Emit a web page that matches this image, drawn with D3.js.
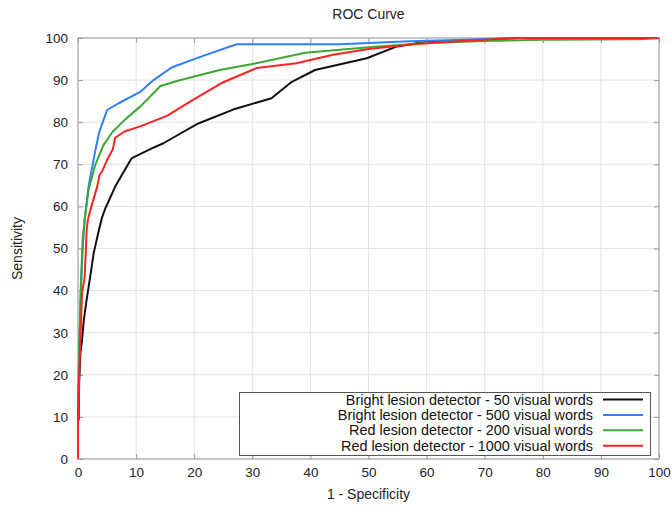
<!DOCTYPE html>
<html>
<head>
<meta charset="utf-8">
<script src="https://cdn.jsdelivr.net/npm/d3@7"></script>
<style>
  body { margin: 0; background: #fff; }
  svg { font-family: "Liberation Sans", Arial, sans-serif; }
</style>
</head>
<body>
<div id="chart"></div>
<script>
// ROC curves, values (x = 1 - specificity, y = sensitivity, %)
const bright50 = [
  [0, 0], [0, 9], [0.1, 9.3], [0.2, 18], [0.4, 25], [0.7, 28.3], [1.0, 33], [1.4, 37],
  [2.1, 43.3], [2.7, 48.9], [3.6, 54.4], [4.1, 57.2], [4.7, 59.5], [6.4, 64.7], [9.2, 71.4],
  [12.7, 73.8], [14.7, 75], [20.7, 79.7], [26.7, 83], [33.3, 85.7], [36.8, 89.6], [40.8, 92.4],
  [49.7, 95.2], [54.9, 98], [59.4, 99], [70, 99.6], [76, 100], [100, 100]
];
const bright500 = [
  [0, 0], [0, 10], [0.2, 25], [0.5, 40], [0.8, 50], [1.15, 56.8], [1.8, 64.6], [2.9, 72.7],
  [3.6, 77.4], [5, 82.9], [7, 84.5], [10.7, 87.2], [13, 90], [16.1, 93], [22, 96],
  [27.3, 98.5], [45, 98.5], [57, 99.2], [65, 99.5], [75, 100], [100, 100]
];
const red200 = [
  [0, 0], [0, 10], [0.2, 25], [0.5, 42], [0.8, 52], [1.15, 56.8], [1.8, 63.9], [3, 70],
  [4.4, 74.6], [6, 77.8], [8, 80.5], [10.7, 83.7], [14.2, 88.6], [17, 89.8], [24.4, 92.4],
  [30, 93.8], [39.1, 96.5], [50, 97.8], [60, 98.8], [70, 99.3], [80, 99.6], [96.7, 99.7], [100, 100]
];
const red1000 = [
  [0, 0], [0, 10], [0.2, 20], [0.4, 28.3], [0.7, 39.4], [1.15, 43.3], [1.5, 54.4], [1.7, 56.8],
  [2.1, 59], [3.3, 64.7], [3.7, 67.4], [4.25, 68.6], [5, 71], [6.0, 73.6], [6.4, 76.3],
  [8, 77.8], [10.7, 79], [15.3, 81.5], [19.8, 85.3], [25, 89.5], [30.8, 92.9], [37.6, 94],
  [43.9, 96], [50, 97.4], [58.3, 98.6], [66, 99.3], [75.5, 100], [100, 100]
];

const seriesNames = [
  "Bright lesion detector - 50 visual words",
  "Bright lesion detector - 500 visual words",
  "Red lesion detector - 200 visual words",
  "Red lesion detector - 1000 visual words"
];
const seriesData = [bright50, bright500, red200, red1000];
const seriesColors = ["#111111", "#2f7fff", "#3aa832", "#ff2222"];
const ticks = d3.range(0, 101, 10);

const width = 672, height = 508;
const margin = { top: 38, right: 13, bottom: 49, left: 78 };

const svg = d3.select("#chart").append("svg")
  .attr("width", width)
  .attr("height", height);

const x = d3.scaleLinear().domain([0, 100]).range([margin.left, width - margin.right]);
const y = d3.scaleLinear().domain([0, 100]).range([height - margin.bottom, margin.top]);

// grid
svg.append("g")
  .selectAll("line.vg")
  .data(ticks)
  .join("line")
  .attr("x1", d => x(d)).attr("x2", d => x(d))
  .attr("y1", y(0)).attr("y2", y(100))
  .attr("stroke", "#e2e2e2");
svg.append("g")
  .selectAll("line.hg")
  .data(ticks)
  .join("line")
  .attr("x1", x(0)).attr("x2", x(100))
  .attr("y1", d => y(d)).attr("y2", d => y(d))
  .attr("stroke", "#e2e2e2");

// axes, inner ticks on all four sides
const axStyle = g => {
  g.select(".domain").remove();
  g.selectAll(".tick line").attr("stroke", "#999");
  g.selectAll(".tick text").attr("fill", "#222").style("font-size", "13.5px");
};
svg.append("g")
  .attr("transform", `translate(0,${y(0)})`)
  .call(d3.axisBottom(x).tickValues(ticks).tickSizeInner(-5).tickSizeOuter(0).tickPadding(8))
  .call(axStyle);
svg.append("g")
  .attr("transform", `translate(0,${y(100)})`)
  .call(d3.axisTop(x).tickValues(ticks).tickSizeInner(-5).tickSizeOuter(0).tickFormat(""))
  .call(axStyle);
svg.append("g")
  .attr("transform", `translate(${x(0)},0)`)
  .call(d3.axisLeft(y).tickValues(ticks).tickSizeInner(-5).tickSizeOuter(0).tickPadding(10))
  .call(axStyle);
svg.append("g")
  .attr("transform", `translate(${x(100)},0)`)
  .call(d3.axisRight(y).tickValues(ticks).tickSizeInner(-5).tickSizeOuter(0).tickFormat(""))
  .call(axStyle);

// frame
svg.append("rect")
  .attr("x", x(0)).attr("y", y(100))
  .attr("width", x(100) - x(0)).attr("height", y(0) - y(100))
  .attr("fill", "none")
  .attr("stroke", "#999");

// curves
const line = d3.line().x(d => x(d[0])).y(d => y(d[1]));
svg.append("g")
  .selectAll("path")
  .data(seriesData)
  .join("path")
  .attr("d", line)
  .attr("fill", "none")
  .attr("stroke", (d, i) => seriesColors[i])
  .attr("stroke-width", 2)
  .attr("stroke-linejoin", "round");

// legend
const legend = svg.append("g");
legend.append("rect")
  .attr("x", 239.5).attr("y", 392.5)
  .attr("width", 411).attr("height", 63)
  .attr("fill", "#fff")
  .attr("stroke", "#555");
seriesNames.forEach((name, i) => {
  const ly = 399.5 + i * 15.4;
  legend.append("text")
    .attr("x", 593).attr("y", ly)
    .attr("dy", "0.35em")
    .attr("text-anchor", "end")
    .attr("fill", "#111")
    .style("font-size", "14.4px")
    .text(name);
  legend.append("line")
    .attr("x1", 603).attr("x2", 643)
    .attr("y1", ly).attr("y2", ly)
    .attr("stroke", seriesColors[i])
    .attr("stroke-width", 2);
});

// titles
svg.append("text")
  .attr("x", (x(0) + x(100)) / 2)
  .attr("y", 19)
  .attr("text-anchor", "middle")
  .attr("fill", "#222")
  .style("font-size", "14px")
  .text("ROC Curve");

svg.append("text")
  .attr("x", (x(0) + x(100)) / 2)
  .attr("y", 499)
  .attr("text-anchor", "middle")
  .attr("fill", "#222")
  .style("font-size", "14px")
  .text("1 - Specificity");

svg.append("text")
  .attr("transform", "rotate(-90)")
  .attr("x", -(y(0) + y(100)) / 2)
  .attr("y", 22)
  .attr("text-anchor", "middle")
  .attr("fill", "#222")
  .style("font-size", "14px")
  .text("Sensitivity");
</script>
</body>
</html>
